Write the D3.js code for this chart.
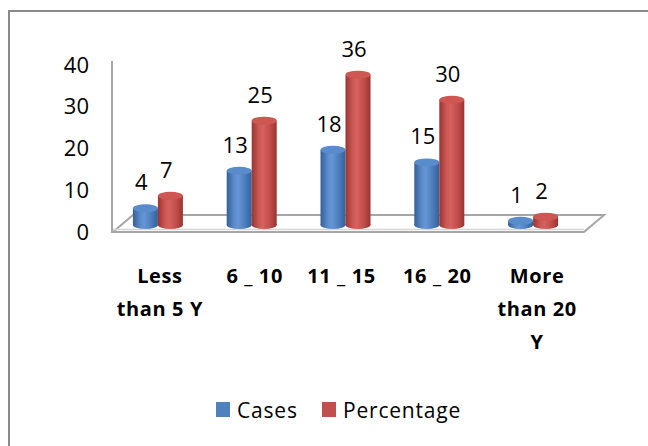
<!DOCTYPE html>
<html>
<head>
<meta charset="utf-8">
<script src="https://cdn.jsdelivr.net/npm/d3@7"></script>
<style>
  html, body { margin: 0; padding: 0; background: #fff; }
  svg { display: block; }
  text { font-family: "Open Sans", "Noto Sans", sans-serif; fill: #000; }
</style>
</head>
<body>
<svg id="chart" width="648" height="446"></svg>
<script>
// Age groups (years) and the two series shown for each
const categories = [["Less", "than 5 Y"], ["6 _ 10"], ["11 _ 15"], ["16 _ 20"], ["More", "than 20", "Y"]];
const cases = [4, 13, 18, 15, 1];
const percentage = [7, 25, 36, 30, 2];
const seriesNames = ["Cases", "Percentage"];
const tickValues = [0, 10, 20, 30, 40];

const svg = d3.select("#chart");
const defs = svg.append("defs");

// outer frame
svg.append("rect").attr("x", 9).attr("y", 11).attr("width", 660).attr("height", 460)
  .attr("fill", "none").attr("stroke", "#8a8a8a").attr("stroke-width", 2);

const y = d3.scaleLinear().domain([0, 40]).range([232, 65]);
const x = d3.scaleBand().domain(d3.range(categories.length)).range([111, 580]);
const depth = { dx: 20, dy: 17 };     // floor depth offset
const barShift = { dy: 7 };            // bars sit midway into the floor
const barW = 25, ry = 4;

// left wall edge
svg.append("line").attr("x1", 112).attr("x2", 112).attr("y1", 61).attr("y2", y(0))
  .attr("stroke", "#a6a6a6").attr("stroke-width", 2);

// floor parallelogram
const fl = y(0);
svg.append("path")
  .attr("d", `M${113},${fl} L${113 + depth.dx},${fl - depth.dy} L${604},${fl - depth.dy} L${584},${fl} Z`)
  .attr("fill", "#fff").attr("stroke", "#a6a6a6").attr("stroke-width", 2);
svg.append("line").attr("x1", 113).attr("x2", 584).attr("y1", fl - 2.5).attr("y2", fl - 2.5)
  .attr("stroke", "#d6d6d6").attr("stroke-width", 1.5);

// y axis labels
const yAxis = d3.axisLeft(y).tickValues(tickValues).tickSize(0).tickPadding(0);
const gy = svg.append("g").attr("transform", "translate(89,0)").call(yAxis);
gy.select(".domain").remove();
gy.selectAll("text").attr("font-size", 22).attr("font-family", "Open Sans, sans-serif").attr("fill", "#000");

// cylinder shading
function grad(id, stops) {
  const g = defs.append("linearGradient").attr("id", id).attr("x1", "0").attr("x2", "1").attr("y1", "0").attr("y2", "0");
  stops.forEach(([o, c]) => g.append("stop").attr("offset", o).attr("stop-color", c));
}
grad("gBlue", [[0, "#355f96"], [0.3, "#5b8ccb"], [0.45, "#6696d4"], [0.75, "#4a7bbb"], [1, "#34609a"]]);
grad("gRed", [[0, "#9a3532"], [0.3, "#cd5955"], [0.45, "#d5625e"], [0.75, "#bf4c48"], [1, "#983330"]]);
const topBlue = "#5a8bcb", topRed = "#cf5753";

const series = [
  { name: seriesNames[0], values: cases, fill: "url(#gBlue)", top: topBlue, off: -barW / 2, swatch: "#4f81bd" },
  { name: seriesNames[1], values: percentage, fill: "url(#gRed)", top: topRed, off: barW / 2, swatch: "#c0504d" }
];

const baseY = y(0) - barShift.dy;
series.forEach(s => {
  const g = svg.append("g");
  s.values.forEach((v, i) => {
    const cx = x(i) + x.bandwidth() / 2 + s.off;
    const topY = y(v) - barShift.dy;
    const left = cx - barW / 2;
    g.append("ellipse").attr("cx", cx).attr("cy", baseY).attr("rx", barW / 2).attr("ry", ry).attr("fill", s.fill);
    g.append("rect").attr("x", left).attr("y", topY).attr("width", barW).attr("height", baseY - topY).attr("fill", s.fill);
    g.append("ellipse").attr("cx", cx).attr("cy", topY).attr("rx", barW / 2).attr("ry", ry).attr("fill", s.top);
    g.append("text").attr("x", cx - 4).attr("y", topY - ry - 14)
      .attr("text-anchor", "middle").attr("font-size", 22).text(v);
  });
});

// category labels
const labelNudge = [2, 3, -4, -2, 4];
categories.forEach((lines, i) => {
  const cx = x(i) + x.bandwidth() / 2 + labelNudge[i];
  const t = svg.append("text").attr("text-anchor", "middle").attr("font-size", 20)
    .attr("font-weight", "bold").attr("letter-spacing", 0.6);
  lines.forEach((ln, k) => t.append("tspan").attr("x", cx).attr("y", 283 + k * 33).text(ln));
});

// legend
const legend = [
  { x: 216, s: series[0] },
  { x: 322, s: series[1] }
];
legend.forEach(l => {
  svg.append("rect").attr("x", l.x).attr("y", 402).attr("width", 14).attr("height", 15).attr("fill", l.s.swatch);
  svg.append("text").attr("x", l.x + 21).attr("y", 418).attr("font-size", 21)
    .attr("letter-spacing", 0.8).text(l.s.name);
});
</script>
</body>
</html>
